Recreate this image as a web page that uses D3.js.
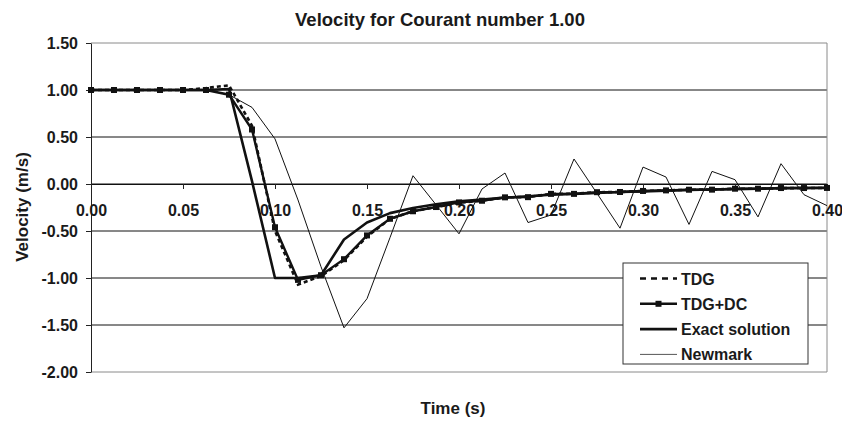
<!DOCTYPE html>
<html>
<head>
<meta charset="utf-8">
<script src="https://cdn.jsdelivr.net/npm/d3@7"></script>
<style>
  body { margin: 0; background: #fff; }
  text { font-family: "Liberation Sans", Arial, sans-serif; font-weight: bold; fill: #1a1a1a; }
</style>
</head>
<body>
<svg id="chart"></svg>
<script>
const width = 842, height = 421;

// Time steps (dt = 0.0125 s, Courant number 1)
const times = d3.range(0, 33).map(i => +(i * 0.0125).toFixed(4));

// Series values
const tdg = [1.00, 1.00, 1.00, 1.00, 1.00, 1.02, 1.05, 0.62, -0.50, -1.07, -0.98, -0.81,
  -0.56, -0.37, -0.29, -0.245, -0.20, -0.178, -0.142, -0.138, -0.106, -0.104, -0.088, -0.085,
  -0.074, -0.068, -0.061, -0.059, -0.051, -0.050, -0.044, -0.043, -0.042];
const tdgDc = [1.00, 1.00, 1.00, 1.00, 1.00, 1.00, 0.95, 0.58, -0.46, -1.02, -0.97, -0.80,
  -0.547, -0.37, -0.29, -0.245, -0.196, -0.178, -0.142, -0.14, -0.105, -0.105, -0.087, -0.085,
  -0.074, -0.068, -0.061, -0.06, -0.05, -0.05, -0.043, -0.043, -0.042];
const exact = [1.00, 1.00, 1.00, 1.00, 1.00, 1.00, 1.01, 0.03, -1.00, -1.00, -0.97, -0.59,
  -0.41, -0.31, -0.255, -0.215, -0.185, -0.165, -0.145, -0.13, -0.115, -0.105, -0.095, -0.085,
  -0.078, -0.07, -0.064, -0.059, -0.054, -0.05, -0.046, -0.043, -0.04];
const newmark = [1.00, 1.00, 1.00, 1.00, 1.00, 1.00, 0.95, 0.815, 0.48, -0.17, -0.88, -1.53,
  -1.22, -0.57, 0.088, -0.22, -0.53, -0.053, 0.117, -0.41, -0.33, 0.266, -0.10, -0.47,
  0.18, 0.074, -0.43, 0.134, 0.046, -0.35, 0.216, -0.114, -0.23];

const xTicks = [0, 0.05, 0.10, 0.15, 0.20, 0.25, 0.30, 0.35, 0.40];
const yTicks = [1.5, 1.0, 0.5, 0.0, -0.5, -1.0, -1.5, -2.0];

const legendItems = [
  { name: "TDG", key: "tdg" },
  { name: "TDG+DC", key: "tdgdc" },
  { name: "Exact solution", key: "exact" },
  { name: "Newmark", key: "newmark" }
];

// plain hyphen for negatives, like the original
const fmt = d => d.toFixed(2);

const svg = d3.select("#chart")
  .attr("width", width)
  .attr("height", height);

// Scales
const xScale = d3.scaleLinear().domain([0, 0.4]).range([91, 827]);
const yScale = d3.scaleLinear().domain([-2, 1.5]).range([372, 43]);

// Gridlines
svg.append("g")
  .selectAll("line")
  .data(yTicks)
  .enter()
  .append("line")
  .attr("x1", xScale(0))
  .attr("x2", xScale(0.4))
  .attr("y1", d => yScale(d))
  .attr("y2", d => yScale(d))
  .attr("stroke", d => (d === 1.5 || d === -2) ? "#8a8a8a" : "#111")
  .attr("stroke-width", 1);

// Right border of plot area
svg.append("line")
  .attr("x1", xScale(0.4)).attr("x2", xScale(0.4))
  .attr("y1", yScale(1.5)).attr("y2", yScale(-2))
  .attr("stroke", "#8a8a8a");

// Y axis
const yAxis = svg.append("g")
  .attr("transform", `translate(${xScale(0)},0)`)
  .call(d3.axisLeft(yScale).tickValues(yTicks).tickFormat(fmt)
    .tickSize(5).tickSizeOuter(0).tickPadding(8));
yAxis.selectAll("text").style("font-size", "16px").attr("font-family", null);
yAxis.select(".domain").attr("stroke", "#222");
yAxis.selectAll(".tick line").attr("stroke", "#222");

// X axis at v = 0
const xAxis = svg.append("g")
  .attr("transform", `translate(0,${yScale(0)})`)
  .call(d3.axisBottom(xScale).tickValues(xTicks).tickFormat(fmt)
    .tickSize(5).tickSizeOuter(0).tickPadding(16));
xAxis.selectAll("text").style("font-size", "16px").attr("font-family", null);
xAxis.select(".domain").attr("stroke", "#111");
xAxis.selectAll(".tick line").attr("stroke", "#222");

// Line generator
const line = d3.line()
  .x((d, i) => xScale(times[i]))
  .y(d => yScale(d));

const styles = {
  newmark: { width: 1, dash: null },
  exact: { width: 2.6, dash: null },
  tdg: { width: 2.6, dash: "4,3" },
  tdgdc: { width: 2.4, dash: null }
};

svg.append("path").attr("d", line(newmark)).attr("fill", "none")
  .attr("stroke", "#111").attr("stroke-width", styles.newmark.width);
svg.append("path").attr("d", line(exact)).attr("fill", "none")
  .attr("stroke", "#111").attr("stroke-width", styles.exact.width).attr("stroke-linejoin", "round");
svg.append("path").attr("d", line(tdg)).attr("fill", "none")
  .attr("stroke", "#111").attr("stroke-width", styles.tdg.width).attr("stroke-dasharray", styles.tdg.dash);
svg.append("path").attr("d", line(tdgDc)).attr("fill", "none")
  .attr("stroke", "#111").attr("stroke-width", styles.tdgdc.width);

// TDG+DC square markers
svg.append("g")
  .selectAll("rect")
  .data(tdgDc)
  .enter()
  .append("rect")
  .attr("x", (d, i) => xScale(times[i]) - 3)
  .attr("y", d => yScale(d) - 3)
  .attr("width", 6)
  .attr("height", 6)
  .attr("fill", "#111");

// Title and axis titles
svg.append("text")
  .attr("x", 440).attr("y", 26)
  .attr("text-anchor", "middle")
  .style("font-size", "18.5px")
  .text("Velocity for Courant number 1.00");

svg.append("text")
  .attr("x", 453).attr("y", 414)
  .attr("text-anchor", "middle")
  .style("font-size", "17px")
  .text("Time (s)");

svg.append("text")
  .attr("transform", "translate(28,207) rotate(-90)")
  .attr("text-anchor", "middle")
  .style("font-size", "17px")
  .text("Velocity (m/s)");

// Legend
const legend = svg.append("g").attr("transform", "translate(623,263)");
legend.append("rect")
  .attr("width", 185).attr("height", 101)
  .attr("fill", "#fff").attr("stroke", "#333").attr("stroke-width", 1);

const rows = legend.selectAll("g.row")
  .data(legendItems)
  .enter()
  .append("g")
  .attr("class", "row")
  .attr("transform", (d, i) => `translate(0,${15.5 + i * 25.3})`);

rows.append("line")
  .attr("x1", 17).attr("x2", 54)
  .attr("stroke", d => d.key === "newmark" ? "#555" : "#111")
  .attr("stroke-width", d => styles[d.key].width)
  .attr("stroke-dasharray", d => d.key === "tdg" ? "6,5" : null);

rows.filter(d => d.key === "tdgdc")
  .append("rect")
  .attr("x", 32.5).attr("y", -3).attr("width", 6).attr("height", 6)
  .attr("fill", "#111");

rows.append("text")
  .attr("x", 58).attr("y", 6)
  .style("font-size", "16px")
  .text(d => d.name);
</script>
</body>
</html>
